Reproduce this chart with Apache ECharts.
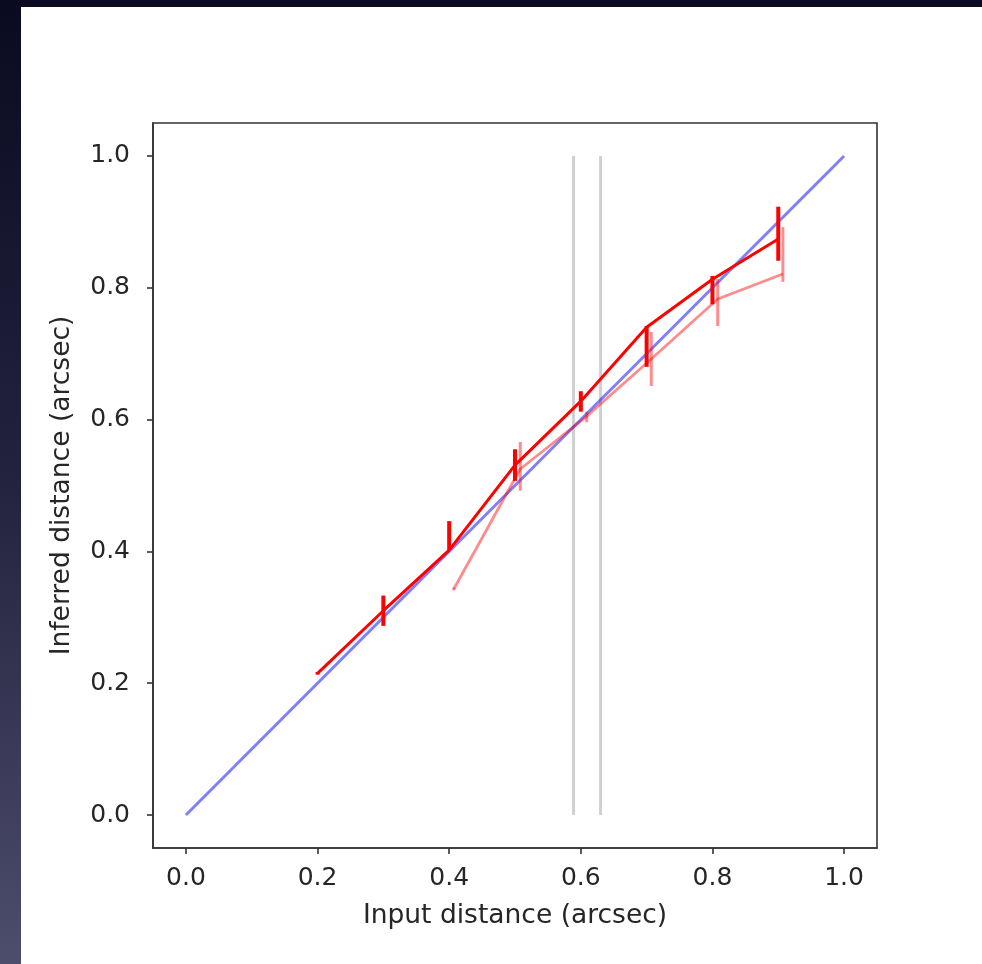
<!DOCTYPE html>
<html>
<head>
<meta charset="utf-8">
<script src="https://cdn.jsdelivr.net/npm/echarts@6/dist/echarts.min.js"></script>
<style>
html,body{margin:0;padding:0;background:#fff;}
#c{width:982px;height:964px;}
</style>
</head>
<body>
<div id="c"></div>
<script>
// ---- data ----
const xTicks = [0.0, 0.2, 0.4, 0.6, 0.8, 1.0];
const yTicks = [0.0, 0.2, 0.4, 0.6, 0.8, 1.0];
const identityX = [0, 1];
const identityY = [0, 1];
const greyLinesX = [0.589, 0.630];
const greyLineY = [0, 1];
// main (solid red) series
const mainX = [0.2, 0.3, 0.4, 0.5, 0.6, 0.7, 0.8, 0.9];
const mainY = [0.215, 0.310, 0.402, 0.531, 0.628, 0.740, 0.813, 0.874];
const mainLo = [0.213, 0.287, 0.402, 0.507, 0.612, 0.680, 0.775, 0.841];
const mainHi = [0.217, 0.333, 0.446, 0.555, 0.643, 0.742, 0.818, 0.923];
// secondary (faded red) series
const altX = [0.407, 0.508, 0.609, 0.707, 0.808, 0.907];
const altY = [0.343, 0.525, 0.605, 0.692, 0.783, 0.821];
const altLo = [0.341, 0.492, 0.596, 0.651, 0.742, 0.809];
const altHi = [0.345, 0.566, 0.612, 0.733, 0.813, 0.892];

const pairs = (xs, ys) => xs.map((x, i) => [x, ys[i]]);
const errData = (xs, lo, hi) => xs.map((x, i) => [x, lo[i], hi[i]]);

function errRender(color, width) {
  return function (params, api) {
    const x = api.value(0);
    const p1 = api.coord([x, api.value(1)]);
    const p2 = api.coord([x, api.value(2)]);
    return {
      type: 'line',
      shape: { x1: p1[0], y1: p1[1], x2: p2[0], y2: p2[1] },
      style: { stroke: color, lineWidth: width }
    };
  };
}

const font = 'DejaVu Sans';
const txt = '#262626';
const fs = 25;
const fsName = 26.5;

const chart = echarts.init(document.getElementById('c'), null, { renderer: 'canvas' });
const series = [];
greyLinesX.forEach(gx => {
  series.push({
    type: 'line', data: greyLineY.map(y => [gx, y]), symbol: 'none',
    lineStyle: { color: '#d0d0d0', width: 3 }, z: 1, silent: true
  });
});
series.push({
  type: 'line', data: pairs(identityX, identityY), symbol: 'none',
  lineStyle: { color: 'rgba(0,0,255,0.5)', width: 3 }, z: 2
});
series.push({
  type: 'line', data: pairs(altX, altY), symbol: 'none',
  lineStyle: { color: 'rgba(255,0,0,0.45)', width: 2.8 }, z: 3
});
series.push({
  type: 'custom', data: errData(altX, altLo, altHi),
  renderItem: errRender('rgba(255,0,0,0.45)', 3), z: 3
});
series.push({
  type: 'line', data: pairs(mainX, mainY), symbol: 'none',
  lineStyle: { color: '#ff0000', width: 3 }, z: 4
});
series.push({
  type: 'custom', data: errData(mainX, mainLo, mainHi),
  renderItem: errRender('#ff0000', 4), z: 4
});

chart.setOption({
  backgroundColor: '#ffffff',
  animation: false,
  graphic: [
    { type: 'rect', shape: { x: 0, y: 0, width: 982, height: 7 },
      style: { fill: '#0b0b22' }, z: 100 },
    { type: 'rect', shape: { x: 0, y: 0, width: 21, height: 964 },
      style: { fill: new echarts.graphic.LinearGradient(0, 0, 0, 1, [
        { offset: 0, color: '#0a0a20' },
        { offset: 0.5, color: '#23233f' },
        { offset: 1, color: '#4d4d6c' }
      ]) }, z: 100 }
  ],
  grid: {
    left: 153, top: 123, width: 724, height: 725,
    show: true, borderColor: '#333333', borderWidth: 1.6, backgroundColor: 'transparent'
  },
  xAxis: {
    type: 'value', min: -0.05, max: 1.05,
    name: 'Input distance (arcsec)', nameLocation: 'middle', nameGap: 55,
    nameTextStyle: { fontFamily: font, fontSize: fsName, color: txt },
    axisLine: { show: true, onZero: false, lineStyle: { color: '#333333', width: 1.6 } },
    axisTick: { show: true, inside: false, length: 6, customValues: xTicks,
      lineStyle: { color: '#333333', width: 1.6 } },
    axisLabel: { customValues: xTicks, formatter: v => v.toFixed(1), margin: 18,
      fontFamily: font, fontSize: fs, color: txt },
    splitLine: { show: false }
  },
  yAxis: {
    type: 'value', min: -0.05, max: 1.05,
    name: 'Inferred distance (arcsec)', nameLocation: 'middle', nameGap: 77, nameRotate: 90,
    nameTextStyle: { fontFamily: font, fontSize: fsName, color: txt },
    axisLine: { show: true, onZero: false, lineStyle: { color: '#333333', width: 1.6 } },
    axisTick: { show: true, inside: false, length: 6, customValues: yTicks,
      lineStyle: { color: '#333333', width: 1.6 } },
    axisLabel: { customValues: yTicks, formatter: v => v.toFixed(1), margin: 23,
      fontFamily: font, fontSize: fs, color: txt },
    splitLine: { show: false }
  },
  series: series
});
</script>
</body>
</html>
